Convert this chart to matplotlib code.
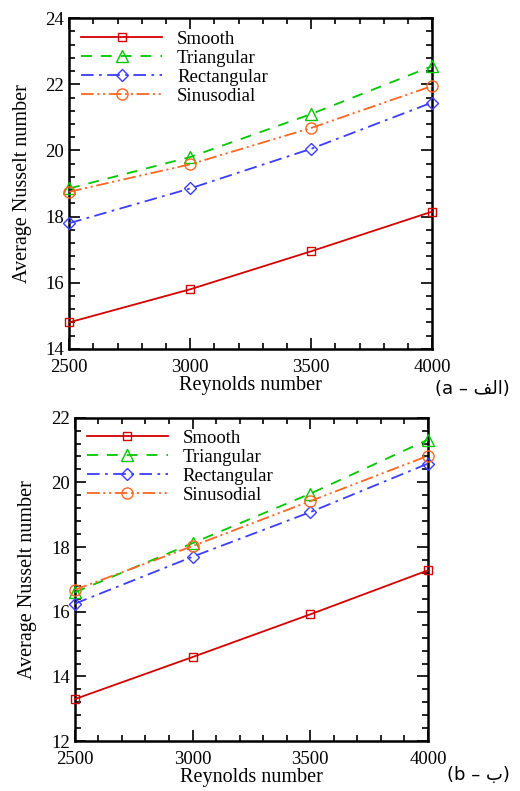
import numpy as np
import matplotlib.pyplot as plt
from matplotlib.ticker import MultipleLocator

# data
re = [2500, 3000, 3500, 4000]
names = ['Smooth', 'Triangular', 'Rectangular', 'Sinusodial']

nu_a = {
    'Smooth':      [14.8, 15.8, 16.95, 18.15],
    'Triangular':  [18.85, 19.8, 21.1, 22.55],
    'Rectangular': [17.8, 18.85, 20.05, 21.45],
    'Sinusodial':  [18.75, 19.58, 20.68, 21.95],
}
nu_b = {
    'Smooth':      [13.3, 14.6, 15.92, 17.28],
    'Triangular':  [16.6, 18.12, 19.65, 21.32],
    'Rectangular': [16.25, 17.7, 19.08, 20.58],
    'Sinusodial':  [16.68, 18.03, 19.42, 20.82],
}

colors = {'Smooth': '#d40000', 'Triangular': '#00c800', 'Rectangular': '#3c3cff', 'Sinusodial': '#ff6622'}
styles = {'Smooth': '-', 'Triangular': (0, (6, 5)), 'Rectangular': (0, (7, 3, 1.5, 3)),
          'Sinusodial': (0, (7, 2, 1.2, 2, 1.2, 2))}
markers = {'Smooth': 's', 'Triangular': '^', 'Rectangular': 'D', 'Sinusodial': 'o'}
msize = {'Smooth': 6, 'Triangular': 8, 'Rectangular': 6, 'Sinusodial': 8}

plt.rcParams['font.family'] = ['Liberation Serif', 'DejaVu Sans']

fig = plt.figure(figsize=(5.2, 7.91), dpi=100)
ax1 = fig.add_axes([0.133, 0.559, 0.698, 0.418])
ax2 = fig.add_axes([0.144, 0.063, 0.679, 0.409])


def draw(ax, data, ylim):
    for n in names:
        ax.plot(re, data[n], color=colors[n], linestyle=styles[n], lw=1.3,
                marker=markers[n], ms=msize[n], mfc='none', mec=colors[n], mew=1.0,
                label=n, clip_on=False, zorder=3)
    ax.set_xlim(2500, 4000)
    ax.set_ylim(*ylim)
    ax.xaxis.set_major_locator(MultipleLocator(500))
    ax.xaxis.set_minor_locator(MultipleLocator(100))
    ax.yaxis.set_major_locator(MultipleLocator(2))
    ax.yaxis.set_minor_locator(MultipleLocator(0.4))
    ax.tick_params(which='both', direction='in', top=True, right=True, width=1.2, labelsize=13.5)
    ax.tick_params(which='major', length=8)
    ax.tick_params(which='minor', length=4)
    ax.tick_params(axis='x', pad=7)
    for s in ax.spines.values():
        s.set_linewidth(1.8)
    ax.set_xlabel('Reynolds number', fontsize=14.5, labelpad=0)
    ax.set_ylabel('Average Nusselt number', fontsize=14.5, labelpad=10)
    ax.legend(loc='upper left', frameon=False, fontsize=13.5, handlelength=4.3,
              labelspacing=0.1, borderaxespad=0.25, handletextpad=0.8)


draw(ax1, nu_a, (14, 24))
draw(ax2, nu_b, (12, 22))

fig.text(0.98, 0.508, '(a \u2013 \ufed2\ufedf\ufe8d)', ha='right', va='center',
         fontsize=13, family=['DejaVu Sans'])
fig.text(0.98, 0.02, '(b \u2013 \ufe8f)', ha='right', va='center',
         fontsize=13, family=['DejaVu Sans'])

fig.savefig('out.png', dpi=100)
